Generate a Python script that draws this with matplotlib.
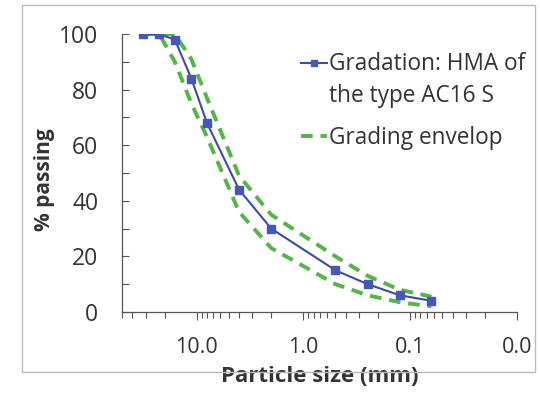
import numpy as np
import matplotlib
matplotlib.use('Agg')
import matplotlib.pyplot as plt
from matplotlib.ticker import FixedLocator, FixedFormatter, LogLocator, NullFormatter
from matplotlib.patches import Rectangle

# sieve sizes (mm) and % passing
sieve = [31.5, 22.4, 16, 11.2, 8, 4, 2, 0.5, 0.25, 0.125, 0.063]
gradation = [100, 100, 98, 84, 68, 44, 30, 15, 10, 6, 4]
env_upper = [100, 100, 100, 91, 77, 49, 35, 20, 13, 8, 5.5]
env_lower = [100, 100, 90, 75, 63, 36, 23, 10, 6, 3.5, 2]

x_ticks = [10, 1, 0.1, 0.01]
x_labels = ['10.0', '1.0', '0.1', '0.0']
y_ticks = [0, 20, 40, 60, 80, 100]

plt.rcParams['font.family'] = ['Open Sans', 'DejaVu Sans']

blue = '#3B4CA6'
green = '#55B548'

fig = plt.figure(figsize=(5.4, 4.11), dpi=100)
ax = fig.add_axes([0.226, 0.241, 0.731, 0.676])

ax.plot(sieve, gradation, color=blue, lw=1.5, marker='s', ms=6,
        mfc='#4757B5', mec='#4757B5', label='Gradation: HMA of\nthe type AC16 S', zorder=3)
ax.plot(sieve, env_upper, color=green, lw=2.8, ls=(0, (3, 2)), label='Grading envelop')
ax.plot(sieve, env_lower, color=green, lw=2.8, ls=(0, (3, 2)))

ax.set_xscale('log')
ax.set_xlim(50, 0.01)
ax.set_ylim(0, 100)

ax.xaxis.set_major_locator(FixedLocator(x_ticks))
ax.xaxis.set_major_formatter(FixedFormatter(x_labels))
ax.xaxis.set_minor_locator(LogLocator(base=10, subs=np.arange(2, 10)))
ax.xaxis.set_minor_formatter(NullFormatter())
ax.tick_params(axis='x', which='major', direction='out', length=6, width=0.8,
               color='#555555', labelsize=15.5, pad=12, labelcolor='#333333')
ax.tick_params(axis='x', which='minor', direction='out', length=4, width=0.8, color='#555555')

ax.set_yticks(y_ticks)
ax.set_yticks(np.arange(10, 100, 20), minor=True)
ax.tick_params(axis='y', which='both', direction='in', length=5, width=0.8,
               color='#555555', labelsize=16.5, pad=17, labelcolor='#333333')

for s in ['top', 'right']:
    ax.spines[s].set_visible(False)
for s in ['left', 'bottom']:
    ax.spines[s].set_color('#555555')
    ax.spines[s].set_linewidth(0.9)

ax.set_xlabel('Particle size (mm)', fontsize=16, fontweight='bold', color='#333333', labelpad=6)
ax.set_ylabel('% passing', fontsize=15, fontweight='bold', color='#333333')
ax.yaxis.set_label_coords(-0.17, 0.475)

leg = ax.legend(loc='upper left', bbox_to_anchor=(0.453, 0.935), frameon=False, fontsize=16.3,
                borderpad=0, borderaxespad=0,
                handlelength=1.15, handletextpad=0.1, labelspacing=0.8, labelcolor='#333333')
for t in leg.get_texts():
    t.set_linespacing(1.45)

# lift the first handle up to the first text line
for art in leg.get_children()[0].findobj(matplotlib.lines.Line2D):
    if art.get_color() == blue:
        art.set_ydata(np.asarray(art.get_ydata(), dtype=float) + 13)
        art.set_markersize(5)

fig.patches.append(Rectangle((22 / 540, 1 - 372 / 411), 513 / 540, 367 / 411,
                             transform=fig.transFigure, fill=False, ec='#BBBBBB', lw=1))

fig.savefig('out.png', dpi=100)
